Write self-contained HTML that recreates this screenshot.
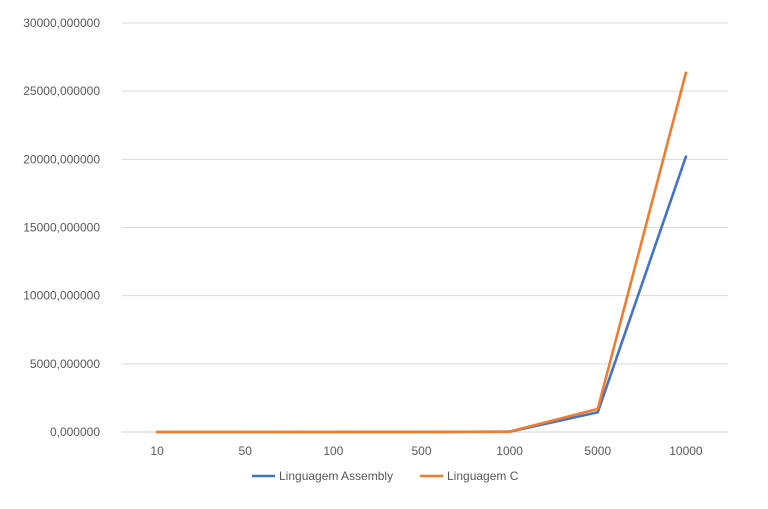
<!DOCTYPE html>
<html><head><meta charset="utf-8"><style>
body{margin:0;background:#fff;font-family:"Liberation Sans",sans-serif;}
svg text{font-family:"Liberation Sans",sans-serif;font-size:12px;fill:#595959;}
</style></head><body>
<svg id="chart" width="768" height="504" xmlns="http://www.w3.org/2000/svg"></svg>
<script>
const categories=["10","50","100","500","1000","5000","10000"];
const assembly=[0.01,0.2,0.8,5,20,1450,20200];
const cLang=[0.01,0.3,1,6,25,1700,26350];
const yTicks=[0,5000,10000,15000,20000,25000,30000];
const yTickLabels=["0,000000","5000,000000","10000,000000","15000,000000","20000,000000","25000,000000","30000,000000"];
const svg=document.getElementById('chart');
const NS="http://www.w3.org/2000/svg";
const X0=113,X1=730,Y0=432,Y1=23,YMAX=30000;
function xs(i){return X0+(X1-X0)/categories.length*(i+0.5);}
function ys(v){return Y0-(Y0-Y1)*v/YMAX;}
function mk(t,a){const e=document.createElementNS(NS,t);for(const k in a)e.setAttribute(k,a[k]);svg.appendChild(e);return e;}
yTicks.forEach((v,i)=>{
  const g=mk('line',{x1:122,x2:728,y1:ys(v),y2:ys(v),stroke:i==0?'#d0d0d0':'#d9d9d9','stroke-width':1});
  
  
  const t=mk('text',{x:100,y:ys(v)+4,'text-anchor':'end'});t.textContent=yTickLabels[i];
  
  
});
categories.forEach((c,i)=>{
  const t=mk('text',{x:xs(i),y:455,'text-anchor':'middle'});t.textContent=c;
  
  
});
function series(vals,color,name){
  const p=mk('polyline',{points:vals.map((v,i)=>xs(i)+','+ys(v)).join(' '),fill:'none',stroke:color,'stroke-width':2.6,'stroke-linejoin':'round','stroke-linecap':'round'});
  
  
}
series(assembly,'#4472c4','series-assembly');
series(cLang,'#ed7d31','series-c');
function legend(x,color,label,name){
  const l=mk('line',{x1:x,x2:x+23,y1:476,y2:476,stroke:color,'stroke-width':2.6});
  
  
  const t=mk('text',{x:x+27,y:480});t.textContent=label;
  
  
}
legend(252,'#4472c4','Linguagem Assembly','legend-assembly');
legend(420,'#ed7d31','Linguagem C','legend-c');
</script>
</body></html>
